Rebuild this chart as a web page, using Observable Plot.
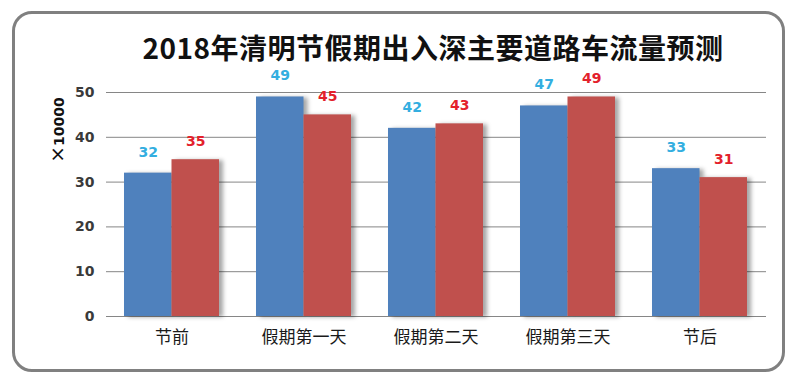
<!DOCTYPE html>
<html>
<head>
<meta charset="utf-8">
<script src="https://cdn.jsdelivr.net/npm/d3@7"></script>
<script src="https://cdn.jsdelivr.net/npm/@observablehq/plot@0.6"></script>
<style>
  html, body { margin: 0; padding: 0; background: #fff; }
  #wrap { position: relative; width: 799px; height: 382px; overflow: hidden; background: #fff; }
  #wrap svg { position: absolute; left: 0; top: 0; }
  #frame { position: absolute; left: 12px; top: 11px; width: 773px; height: 361px; box-sizing: border-box;
           border: 3.5px solid #808080; border-radius: 20px; z-index: 2; pointer-events: none; }
  #title { position: absolute; left: 433px; top: 47px; transform: translate(-50%, -50%); white-space: nowrap;
           font-family: "Noto Sans CJK SC", sans-serif; font-weight: bold; font-size: 28px; color: #111;
           letter-spacing: 0.5px; z-index: 3; }
  #ylab { position: absolute; left: 57px; top: 130px; transform: translate(-50%, -50%) rotate(-90deg);
          white-space: nowrap; font-family: "DejaVu Sans", sans-serif; font-weight: bold; font-size: 14px; color: #111; z-index: 3; }
  #ylab .x { font-size: 20px; font-weight: normal; }
  svg g[aria-label="bar"] { filter: drop-shadow(4px 1px 2px rgba(0,0,0,0.35)); }
</style>
</head>
<body>
<div id="wrap">
  <div id="title">2018年清明节假期出入深主要道路车流量预测</div>
  <div id="ylab"><span class="x">×</span>10000</div>
  <div id="frame"></div>
</div>
<script>
const categories = ["节前", "假期第一天", "假期第二天", "假期第三天", "节后"];
const seriesBlue = [32, 49, 42, 47, 33];
const seriesRed = [35, 45, 43, 49, 31];
const yTicks = [0, 10, 20, 30, 40, 50];

const blueRows = categories.map((c, i) => ({cat: c, value: seriesBlue[i]}));
const redRows = categories.map((c, i) => ({cat: c, value: seriesRed[i]}));

const half = 47.5;

const chart = Plot.plot({
  width: 799,
  height: 382,
  marginLeft: 106,
  marginRight: 33,
  marginTop: 92,
  marginBottom: 66,
  style: {background: "transparent"},
  x: {type: "band", domain: categories, paddingInner: 0.28, paddingOuter: 0.14},
  y: {domain: [0, 50]},
  marks: [
    Plot.gridY({ticks: yTicks, stroke: "#868686", strokeOpacity: 1, strokeWidth: 1}),
    Plot.axisY({ticks: yTicks, tickSize: 0, tickPadding: 12, label: null, fontSize: 14, fontWeight: "bold",
                fontFamily: "DejaVu Sans", fill: "#3a3a3a"}),
    Plot.axisX({tickSize: 0, tickPadding: 14, label: null, fontSize: 17, fontFamily: "Noto Sans CJK SC", fill: "#1a1a1a"}),
    Plot.barY(blueRows, {x: "cat", y: "value", fill: "#4f81bd", insetRight: half}),
    Plot.barY(redRows, {x: "cat", y: "value", fill: "#c0504d", insetLeft: half}),
    Plot.text(blueRows, {x: "cat", y: "value", text: d => String(d.value), dx: -half / 2, dy: -21,
                         fill: "#33aee0", fontSize: 14, fontWeight: "bold", fontFamily: "DejaVu Sans"}),
    Plot.text(redRows, {x: "cat", y: "value", text: d => String(d.value), dx: half / 2, dy: -18,
                        fill: "#e3212b", fontSize: 14, fontWeight: "bold", fontFamily: "DejaVu Sans"})
  ]
});
document.getElementById("wrap").insertBefore(chart, document.getElementById("title"));
</script>
</body>
</html>
